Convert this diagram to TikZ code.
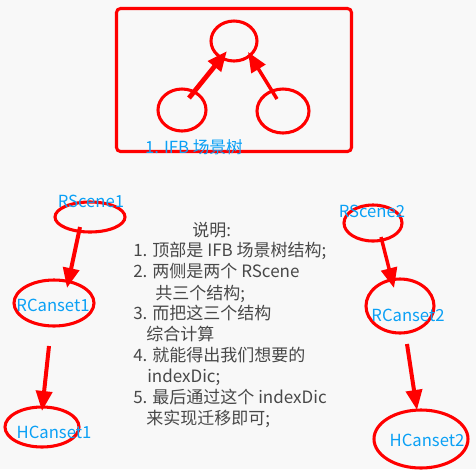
\documentclass[tikz,border=0pt]{standalone}
\usepackage{fontspec}
\setmainfont{Noto Sans CJK SC}
\usetikzlibrary{shapes.geometric,arrows.meta}
\definecolor{bg}{HTML}{F8F8F8}
\definecolor{myred}{HTML}{FF0000}
\definecolor{myblue}{HTML}{0AA0F5}
\definecolor{mygray}{HTML}{484848}
\begin{document}
\begin{tikzpicture}[x=0.75pt,y=-0.75pt,
 ell/.style={draw=myred, line width=2.3pt, ellipse, inner sep=0pt},
 arr/.style={draw=myred, line width=3pt, -{Triangle[length=15pt,width=12pt]}},
 lbl/.style={text=myblue, font=\fontsize{12.5pt}{14pt}\selectfont, inner sep=0pt},
 note/.style={text=mygray, font=\fontsize{12.75pt}{15pt}\selectfont, inner sep=0pt, anchor=base west}]
\fill[bg] (0,0) rectangle (476,469);
\useasboundingbox (0,0) rectangle (476,469);
% box
\draw[myred, line width=2.3pt, rounded corners=3pt] (116.5,8.5) rectangle (351.5,151.5);
% tree ellipses
\node[ell, minimum width=34.5pt, minimum height=30pt] (top) at (234,41) {};
\node[ell, minimum width=36pt, minimum height=31.5pt] (left) at (182,110) {};
\node[ell, minimum width=39pt, minimum height=33pt] (right) at (283,111) {};
\node[lbl] (ifb) at (194,147) {1. IFB 场景树};
% side ellipses
\node[ell, minimum width=52.5pt, minimum height=22.5pt] (rs1) at (90,217) {};
\node[ell, minimum width=60pt, minimum height=34.5pt] (rc1) at (54,303) {};
\node[ell, minimum width=55.5pt, minimum height=30pt] (hc1) at (42,427) {};
\node[ell, minimum width=43.5pt, minimum height=27pt] (rs2) at (373,223) {};
\node[ell, minimum width=51pt, minimum height=40.5pt] (rc2) at (400,306) {};
\node[ell, minimum width=70.5pt, minimum height=43.5pt] (hc2) at (421,439) {};
% labels
\node[lbl] (rs1t) at (91,201) {RScene1};
\node[lbl] (rc1t) at (53,305) {RCanset1};
\node[lbl] (hc1t) at (54,432) {HCanset1};
\node[lbl] (rs2t) at (372,211) {RScene2};
\node[lbl] (rc2t) at (408,315) {RCanset2};
\node[lbl] (hc2t) at (427,440) {HCanset2};
% arrow end points
\coordinate (a1s) at (189,98);  \coordinate (a1e) at (227,51);
\coordinate (a2s) at (277,99);  \coordinate (a2e) at (248,52);
\coordinate (a3s) at (80,227);  \coordinate (a3e) at (67,288);
\coordinate (a4s) at (49,346);  \coordinate (a4e) at (42,411);
\coordinate (a5s) at (381,237); \coordinate (a5e) at (394,288);
\coordinate (a6s) at (407,344); \coordinate (a6e) at (417,410);
\draw[arr, line width=3.6pt] (a1s) -- (a1e);
\draw[arr, line width=2.6pt] (a2s) -- (a2e);
\draw[arr] (a3s) -- (a3e);
\draw[arr] (a4s) -- (a4e);
\draw[arr, line width=2.6pt] (a5s) -- (a5e);
\draw[arr] (a6s) -- (a6e);
% notes
\node[note] (n0) at (192,236) {说明:};
\node[note] (n1) at (133,256) {1. 顶部是 IFB 场景树结构;};
\node[note] (n2) at (133,277) {2. 两侧是两个 RScene};
\node[note] (n3) at (155,299) {共三个结构;};
\node[note] (n4) at (133,319) {3. 而把这三个结构};
\node[note] (n5) at (146,340) {综合计算};
\node[note] (n6) at (133,361) {4. 就能得出我们想要的};
\node[note] (n7) at (147,382) {indexDic;};
\node[note] (n8) at (133,403) {5. 最后通过这个 indexDic};
\node[note] (n9) at (146,424) {来实现迁移即可;};
\end{tikzpicture}
\end{document}
